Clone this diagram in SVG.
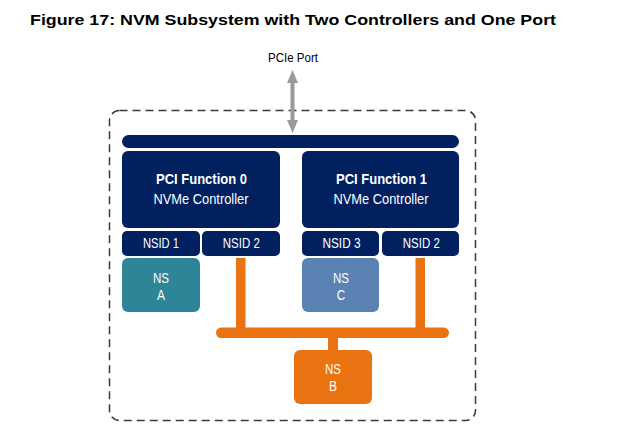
<svg xmlns="http://www.w3.org/2000/svg" width="617" height="435" viewBox="0 0 617 435">
<style>
.navy{fill:#002060}
.t{font-family:"Liberation Sans",Arial,sans-serif;fill:#fff;text-anchor:middle}
.b{font-weight:bold;font-size:14.3px}
.r{font-size:14.3px}
.s{font-size:14.5px}
.org{fill:#E97311}
</style>
<rect width="617" height="435" fill="#fff"/>
<text x="30" y="25" font-family="Liberation Sans,Arial,sans-serif" font-weight="bold" font-size="15.5" fill="#000" textLength="526" lengthAdjust="spacingAndGlyphs">Figure 17: NVM Subsystem with Two Controllers and One Port</text>
<g id="subsystem">
<rect x="109.5" y="110.5" width="366" height="310" rx="10" fill="none" stroke="#3a3a3a" stroke-width="1.5" stroke-dasharray="8,5"/>
</g>
<g id="bus"><rect x="122" y="135" width="337" height="13" rx="6.5" class="navy"/></g>
<g id="ctrl0">
<rect x="122" y="151" width="158" height="77" rx="6" class="navy"/>
<text x="201.5" y="184" class="t b" textLength="91" lengthAdjust="spacingAndGlyphs">PCI Function 0</text>
<text x="201" y="204" class="t r" textLength="95" lengthAdjust="spacingAndGlyphs">NVMe Controller</text>
</g>
<g id="ctrl1">
<rect x="302" y="151" width="157" height="77" rx="6" class="navy"/>
<text x="381.5" y="184" class="t b" textLength="91" lengthAdjust="spacingAndGlyphs">PCI Function 1</text>
<text x="381" y="204" class="t r" textLength="95" lengthAdjust="spacingAndGlyphs">NVMe Controller</text>
</g>
<g id="nsid1"><rect x="122" y="231" width="78" height="25" rx="5" class="navy"/><text x="161" y="248" class="t s" textLength="36" lengthAdjust="spacingAndGlyphs">NSID 1</text></g>
<g id="nsid2a"><rect x="202" y="231" width="78" height="25" rx="5" class="navy"/><text x="241.3" y="248" class="t s" textLength="37" lengthAdjust="spacingAndGlyphs">NSID 2</text></g>
<g id="nsid3"><rect x="302" y="231" width="77" height="25" rx="5" class="navy"/><text x="341.5" y="248" class="t s" textLength="38" lengthAdjust="spacingAndGlyphs">NSID 3</text></g>
<g id="nsid2b"><rect x="382" y="231" width="77" height="25" rx="5" class="navy"/><text x="421.3" y="248" class="t s" textLength="37" lengthAdjust="spacingAndGlyphs">NSID 2</text></g>
<g id="nsA"><rect x="122" y="258" width="78" height="54" rx="6" fill="#2E8597"/><text x="161" y="283" class="t s" textLength="16" lengthAdjust="spacingAndGlyphs">NS</text><text x="161" y="300" class="t s" textLength="8" lengthAdjust="spacingAndGlyphs">A</text></g>
<g id="nsC"><rect x="302" y="258" width="77" height="54" rx="6" fill="#5A83B4"/><text x="341" y="283" class="t s" textLength="16" lengthAdjust="spacingAndGlyphs">NS</text><text x="341" y="300" class="t s" textLength="8.5" lengthAdjust="spacingAndGlyphs">C</text></g>
<g id="nsB"><rect x="294" y="350" width="78" height="54" rx="6" class="org"/><text x="333" y="374" class="t s" textLength="16" lengthAdjust="spacingAndGlyphs">NS</text><text x="333" y="391" class="t s" textLength="8" lengthAdjust="spacingAndGlyphs">B</text></g>
<g id="connectors">
<rect x="236" y="258" width="9.5" height="76" class="org"/>
<rect x="415.5" y="258" width="9.5" height="76" class="org"/>
<rect x="216" y="327.5" width="233" height="10.5" rx="5.25" class="org"/>
<rect x="328" y="336" width="10" height="15" class="org"/>
<g id="pcie-arrow" fill="#999999">
<rect x="290.5" y="80" width="4" height="43"/>
<polygon points="292.5,70 298,83 287,83"/>
<polygon points="292.5,133 298,120 287,120"/>
</g>
</g>
<text x="293" y="62" font-family="Liberation Sans,Arial,sans-serif" font-size="13" fill="#000" text-anchor="middle" textLength="50" lengthAdjust="spacingAndGlyphs">PCIe Port</text>
</svg>
